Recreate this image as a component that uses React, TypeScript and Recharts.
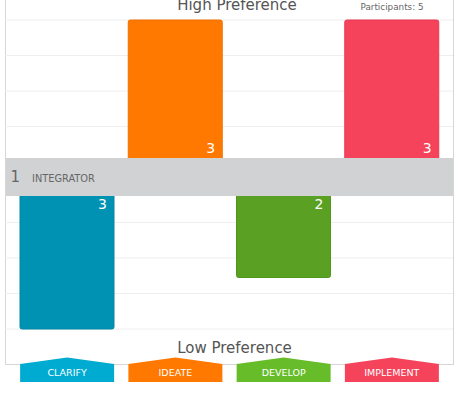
import React from 'react';
import { BarChart, Bar, XAxis, YAxis, CartesianGrid, Cell } from 'recharts';

const categories = ['CLARIFY', 'IDEATE', 'DEVELOP', 'IMPLEMENT'];
const highValues = [0, 3, 0, 3];
const lowValues = [3, 0, 2, 0];
const gridTicks = [-3, -2.31, -1.62, -0.93, 0.93, 1.62, 2.31, 3];
const barColors = ['#0092b2', '#ff7900', '#5aa023', '#f5435b'];
const barStrokes = ['#0086a3', '#f07000', '#529620', '#e83a52'];
const tagColors = ['#00abd1', '#ff7900', '#67bc2a', '#f5435b'];
const participants = 5;
const profileRank = 1;
const profileName = 'INTEGRATOR';
const highTitle = 'High Preference';
const lowTitle = 'Low Preference';

const data = categories.map((name, i) => ({
  name,
  high: highValues[i] ? highValues[i] : null,
  low: lowValues[i] ? -lowValues[i] : null,
}));

const FONT = '"DejaVu Sans", sans-serif';

const ValueLabel = (props: any) => {
  const { x, y, width, height, value } = props;
  if (!value) return null;
  const top = Math.min(y, y + height);
  const bottom = Math.max(y, y + height);
  const isHigh = value > 0;
  const ty = isHigh ? bottom - 21.5 : top + 34.8;
  return (
    <text x={x + width - 7} y={ty} textAnchor="end" fill="#ffffff" fontSize={14} fontFamily={FONT}>
      {Math.abs(value)}
    </text>
  );
};

const TagTick = (props: any) => {
  const { x, y, payload, index } = props;
  const hw = 47;
  const color = tagColors[index % tagColors.length];
  const pts = `${x - hw},${y + 35} ${x},${y + 28.5} ${x + hw},${y + 35} ${x + hw},${y + 53} ${x - hw},${y + 53}`;
  return (
    <g>
      <polygon points={pts} fill={color} />
      <text x={x} y={y + 46.7} textAnchor="middle" fill="#ffffff" fontSize={9.5} fontFamily={FONT}>
        {payload.value}
      </text>
    </g>
  );
};

export default function App() {
  return (
    <div style={{ position: 'absolute', left: 0, top: 0, width: 458, height: 398, background: '#fff', overflow: 'hidden' }}>
      <div
        style={{
          position: 'absolute',
          left: 5,
          top: -20,
          width: 447,
          height: 383,
          border: '1px solid #d6d6d6',
          boxSizing: 'content-box',
        }}
      />
      <div style={{ position: 'absolute', left: 0, top: 0 }}>
        <BarChart
          width={458}
          height={398}
          data={data}
          margin={{ top: 20, right: 5, bottom: 0, left: 5 }}
          stackOffset="sign"
        >
          <CartesianGrid vertical={false} stroke="#eeeeee" />
          <YAxis hide domain={[-3, 3]} ticks={gridTicks} type="number" />
          <XAxis
            dataKey="name"
            height={69}
            axisLine={false}
            tickLine={false}
            tickSize={0}
            tickMargin={0}
            padding={{ left: 8, right: 7 }}
            tick={<TagTick />}
            interval={0}
          />
          <Bar dataKey="high" stackId="a" barSize={94} radius={2} isAnimationActive={false} label={<ValueLabel />}>
            {data.map((d, i) => (
              <Cell key={d.name} fill={barColors[i]} stroke={barStrokes[i]} strokeWidth={1} />
            ))}
          </Bar>
          <Bar dataKey="low" stackId="a" barSize={94} radius={2} isAnimationActive={false} label={<ValueLabel />}>
            {data.map((d, i) => (
              <Cell key={d.name} fill={barColors[i]} stroke={barStrokes[i]} strokeWidth={1} />
            ))}
          </Bar>
        </BarChart>
      </div>
      <svg width={458} height={398} style={{ position: 'absolute', left: 0, top: 0, pointerEvents: 'none' }}>
        <rect x={6} y={158} width={447} height={38} fill="#d1d2d4" />
        <text x={10.5} y={182} fontSize={15} fill="#666666" fontFamily={FONT}>{profileRank}</text>
        <text x={32} y={181.7} fontSize={9.8} fill="#666666" fontFamily={FONT}>{profileName}</text>
        <text x={237} y={9.5} textAnchor="middle" fontSize={15} fill="#555555" fontFamily={FONT}>{highTitle}</text>
        <text x={234.5} y={352.7} textAnchor="middle" fontSize={15} fill="#555555" fontFamily={FONT}>{lowTitle}</text>
        <text x={392} y={9.5} textAnchor="middle" fontSize={8.8} fill="#666666" fontFamily={FONT}>{`Participants: ${participants}`}</text>
      </svg>
    </div>
  );
}
